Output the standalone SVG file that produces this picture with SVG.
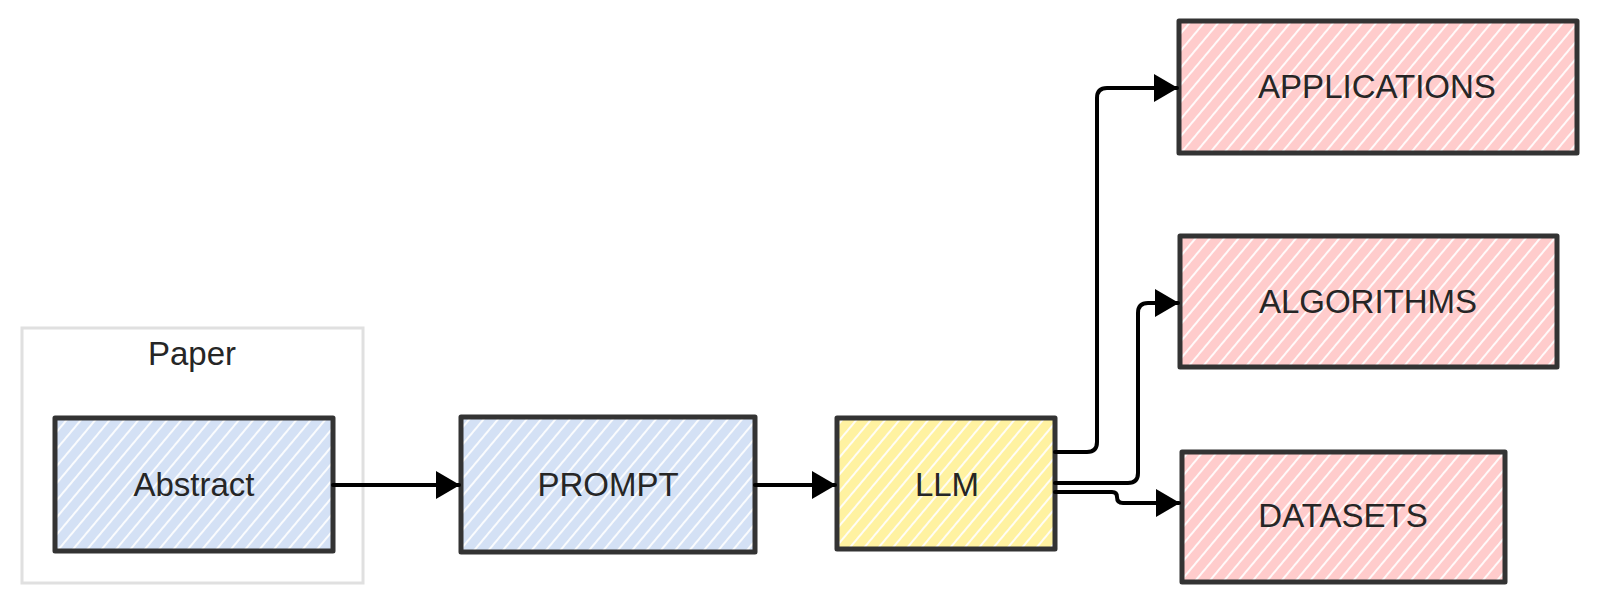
<svg xmlns="http://www.w3.org/2000/svg" width="1600" height="608" viewBox="0 0 1600 608">
  <style>
    .box { stroke: #333333; stroke-width: 5; stroke-linejoin: round; }
    .lbl { font-family: "Liberation Sans", Arial, sans-serif; font-size: 33px; fill: #262626; text-anchor: middle; }
    .edge { fill: none; stroke: #000000; stroke-width: 4; stroke-linejoin: round; stroke-linecap: round; }
  </style>
  <defs>
    <pattern id="hatchBlue" width="11" height="11" patternUnits="userSpaceOnUse" patternTransform="rotate(40)">
      <rect width="11" height="11" fill="#d4e1f5"/>
      <line x1="2" y1="0" x2="2" y2="11" stroke="#ffffff" stroke-width="1.8"/>
    </pattern>
    <pattern id="hatchYellow" width="11" height="11" patternUnits="userSpaceOnUse" patternTransform="rotate(40)">
      <rect width="11" height="11" fill="#fff2a1"/>
      <line x1="2" y1="0" x2="2" y2="11" stroke="#ffffff" stroke-width="1.8"/>
    </pattern>
    <pattern id="hatchPink" width="11" height="11" patternUnits="userSpaceOnUse" patternTransform="rotate(40)">
      <rect width="11" height="11" fill="#ffcccc"/>
      <line x1="2" y1="0" x2="2" y2="11" stroke="#ffffff" stroke-width="1.8"/>
    </pattern>
    <marker id="arrow" viewBox="0 0 24 28" refX="23" refY="14" markerWidth="24" markerHeight="28" markerUnits="userSpaceOnUse" orient="auto">
      <path d="M0,0 L24,14 L0,28 Z" fill="#000000"/>
    </marker>
  </defs>

  <g id="paper">
    <rect x="22" y="328" width="341" height="255" fill="#ffffff" stroke="#e0e0e0" stroke-width="3"/>
    <text class="lbl" x="192" y="365">Paper</text>
  </g>

  <g id="abstract">
    <rect class="box" x="55" y="418" width="278" height="133" fill="url(#hatchBlue)"/>
    <text class="lbl" x="194" y="496">Abstract</text>
  </g>

  <g id="prompt">
    <rect class="box" x="461" y="417" width="294" height="135" fill="url(#hatchBlue)"/>
    <text class="lbl" x="608" y="496">PROMPT</text>
  </g>

  <g id="llm">
    <rect class="box" x="837" y="418" width="218" height="131" fill="url(#hatchYellow)"/>
    <text class="lbl" x="947" y="496">LLM</text>
  </g>

  <g id="applications">
    <rect class="box" x="1179" y="21" width="398" height="132" fill="url(#hatchPink)"/>
    <text class="lbl" x="1377" y="98">APPLICATIONS</text>
  </g>

  <g id="algorithms">
    <rect class="box" x="1180" y="236" width="377" height="131" fill="url(#hatchPink)"/>
    <text class="lbl" x="1368" y="313">ALGORITHMS</text>
  </g>

  <g id="datasets">
    <rect class="box" x="1182" y="452" width="323" height="130" fill="url(#hatchPink)"/>
    <text class="lbl" x="1343" y="527">DATASETS</text>
  </g>

  <g id="connectors">
    <path class="edge" d="M333,485 L459,485" marker-end="url(#arrow)"/>
    <path class="edge" d="M755,485 L835,485" marker-end="url(#arrow)"/>
    <path class="edge" d="M1055,452 L1087,452 Q1097,452 1097,442 L1097,98 Q1097,88 1107,88 L1177,88" marker-end="url(#arrow)"/>
    <path class="edge" d="M1055,483 L1128,483 Q1138,483 1138,473 L1138,313 Q1138,303 1148,303 L1178,303" marker-end="url(#arrow)"/>
    <path class="edge" d="M1055,492 L1112,492 Q1117,492 1117,497 Q1117,503 1123,503 L1179,503" marker-end="url(#arrow)"/>
  </g>
</svg>
